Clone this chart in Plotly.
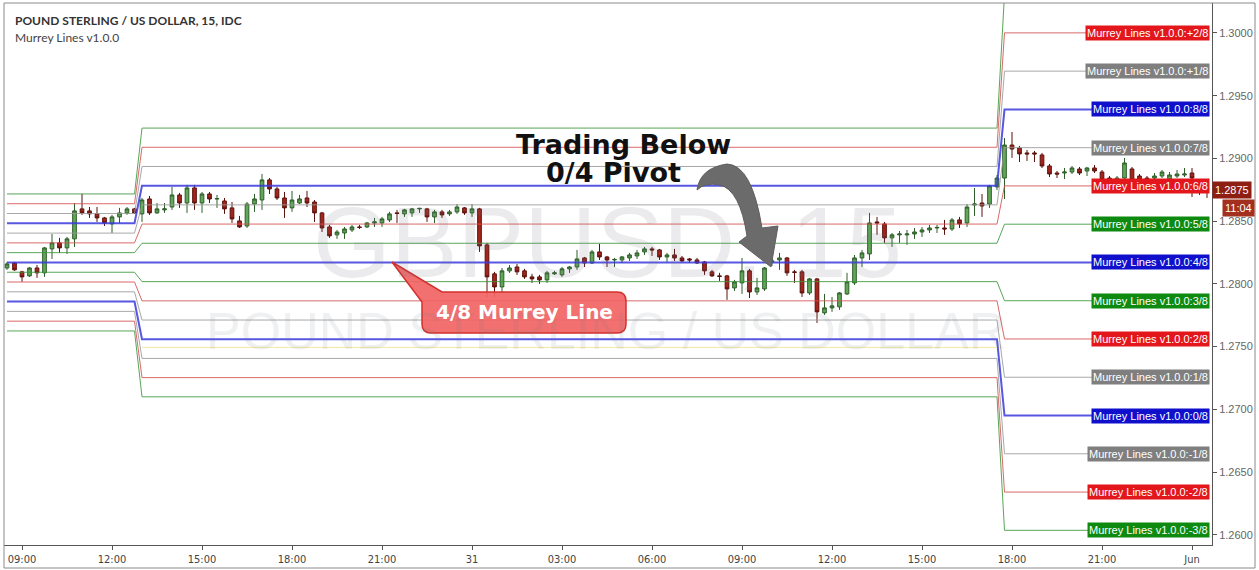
import plotly.graph_objects as go
import pandas as pd

# ---------------- data ----------------
bar_times = pd.date_range("2017-05-30 08:30", periods=161, freq="15min")

opens = [
    1.28127, 1.28167, 1.28096, 1.28064, 1.28127, 1.28088, 1.28279, 1.28327, 1.28287, 1.28359,
    1.28598, 1.28582, 1.28558, 1.28526, 1.28478, 1.28534, 1.28566, 1.28598, 1.28558, 1.28677,
    1.28566, 1.28590, 1.28613, 1.28709, 1.28645, 1.28765, 1.28645, 1.28717, 1.28677, 1.28661,
    1.28606, 1.28502, 1.28462, 1.28637, 1.28669, 1.28829, 1.28757, 1.28685, 1.28606, 1.28645,
    1.28685, 1.28653, 1.28566, 1.28454, 1.28391, 1.28406, 1.28430, 1.28454, 1.28454, 1.28486,
    1.28486, 1.28510, 1.28566, 1.28558, 1.28566, 1.28598, 1.28598, 1.28534, 1.28574, 1.28558,
    1.28574, 1.28606, 1.28566, 1.28598, 1.28311, 1.28080, 1.27976, 1.28104, 1.28135, 1.28104,
    1.28056, 1.28056, 1.28032, 1.28080, 1.28072, 1.28120, 1.28135, 1.28207, 1.28167, 1.28255,
    1.28215, 1.28191, 1.28191, 1.28207, 1.28223, 1.28255, 1.28279, 1.28271, 1.28215, 1.28231,
    1.28207, 1.28199, 1.28191, 1.28175, 1.28096, 1.28064, 1.28064, 1.27968, 1.28008, 1.28104,
    1.27936, 1.27960, 1.28175, 1.28191, 1.28207, 1.28096, 1.28096, 1.27928, 1.28040, 1.27769,
    1.27809, 1.27817, 1.27920, 1.28008, 1.28207, 1.28239, 1.28494, 1.28478, 1.28367, 1.28391,
    1.28391, 1.28398, 1.28414, 1.28430, 1.28446, 1.28446, 1.28438, 1.28510, 1.28486, 1.28629,
    1.28645, 1.28637, 1.28773, 1.28844, 1.29107, 1.29083, 1.29044, 1.29044, 1.29028, 1.28940,
    1.28884, 1.28884, 1.28892, 1.28916, 1.28900, 1.28924, 1.28892, 1.28844, 1.28773, 1.28844,
    1.28916, 1.28860, 1.28844, 1.28844, 1.28860, 1.28836, 1.28860, 1.28868, 1.28884, 1.28781,
    1.28757,
]
highs = [
    1.28175, 1.28175, 1.28104, 1.28135, 1.28151, 1.28295, 1.28398, 1.28367, 1.28375, 1.28645,
    1.28717, 1.28613, 1.28613, 1.28534, 1.28550, 1.28606, 1.28613, 1.28606, 1.28685, 1.28701,
    1.28645, 1.28645, 1.28773, 1.28725, 1.28789, 1.28789, 1.28733, 1.28733, 1.28709, 1.28685,
    1.28653, 1.28542, 1.28653, 1.28717, 1.28876, 1.28844, 1.28773, 1.28733, 1.28741, 1.28709,
    1.28741, 1.28669, 1.28574, 1.28470, 1.28430, 1.28454, 1.28470, 1.28470, 1.28494, 1.28526,
    1.28534, 1.28574, 1.28590, 1.28598, 1.28606, 1.28606, 1.28606, 1.28590, 1.28590, 1.28590,
    1.28637, 1.28613, 1.28637, 1.28606, 1.28327, 1.28096, 1.28127, 1.28151, 1.28159, 1.28120,
    1.28080, 1.28072, 1.28104, 1.28104, 1.28135, 1.28143, 1.28271, 1.28215, 1.28271, 1.28319,
    1.28223, 1.28207, 1.28223, 1.28247, 1.28271, 1.28295, 1.28295, 1.28279, 1.28247, 1.28279,
    1.28223, 1.28207, 1.28207, 1.28183, 1.28112, 1.28088, 1.28072, 1.28032, 1.28207, 1.28120,
    1.28048, 1.28135, 1.28207, 1.28247, 1.28215, 1.28112, 1.28112, 1.28048, 1.28048, 1.27920,
    1.27896, 1.27936, 1.28088, 1.28231, 1.28271, 1.28566, 1.28534, 1.28494, 1.28406, 1.28422,
    1.28430, 1.28446, 1.28454, 1.28470, 1.28470, 1.28510, 1.28526, 1.28534, 1.28637, 1.28765,
    1.28717, 1.28789, 1.28868, 1.29163, 1.29211, 1.29099, 1.29068, 1.29060, 1.29044, 1.28956,
    1.28900, 1.28924, 1.28940, 1.28932, 1.28932, 1.28948, 1.28908, 1.28860, 1.28860, 1.29004,
    1.28932, 1.28876, 1.28860, 1.28884, 1.28908, 1.28892, 1.28908, 1.28924, 1.28924, 1.28805,
    1.28781,
]
lows = [
    1.28112, 1.28104, 1.28016, 1.28056, 1.28048, 1.28056, 1.28199, 1.28247, 1.28239, 1.28295,
    1.28550, 1.28526, 1.28494, 1.28462, 1.28406, 1.28486, 1.28550, 1.28558, 1.28494, 1.28550,
    1.28558, 1.28566, 1.28590, 1.28606, 1.28566, 1.28590, 1.28566, 1.28645, 1.28606, 1.28558,
    1.28486, 1.28446, 1.28446, 1.28574, 1.28590, 1.28717, 1.28669, 1.28526, 1.28574, 1.28637,
    1.28613, 1.28494, 1.28414, 1.28367, 1.28359, 1.28359, 1.28414, 1.28438, 1.28446, 1.28454,
    1.28454, 1.28494, 1.28486, 1.28534, 1.28534, 1.28566, 1.28494, 1.28486, 1.28526, 1.28542,
    1.28558, 1.28550, 1.28534, 1.28255, 1.27896, 1.27896, 1.27928, 1.28088, 1.28072, 1.28040,
    1.28008, 1.28000, 1.28008, 1.28072, 1.28056, 1.28088, 1.28112, 1.28135, 1.28159, 1.28191,
    1.28135, 1.28135, 1.28167, 1.28183, 1.28199, 1.28231, 1.28223, 1.28191, 1.28175, 1.28183,
    1.28175, 1.28167, 1.28159, 1.28072, 1.28056, 1.28024, 1.27873, 1.27944, 1.27920, 1.27888,
    1.27912, 1.27944, 1.28143, 1.28112, 1.28064, 1.28008, 1.27896, 1.27912, 1.27689, 1.27753,
    1.27777, 1.27793, 1.27912, 1.27992, 1.28135, 1.28191, 1.28391, 1.28327, 1.28295, 1.28327,
    1.28311, 1.28359, 1.28375, 1.28406, 1.28406, 1.28391, 1.28422, 1.28446, 1.28454, 1.28542,
    1.28534, 1.28606, 1.28749, 1.28677, 1.29004, 1.28972, 1.28980, 1.28972, 1.28924, 1.28852,
    1.28844, 1.28836, 1.28876, 1.28868, 1.28860, 1.28884, 1.28813, 1.28781, 1.28749, 1.28805,
    1.28789, 1.28805, 1.28813, 1.28829, 1.28844, 1.28821, 1.28844, 1.28852, 1.28693, 1.28709,
    1.28685,
]
closes = [
    1.28159, 1.28112, 1.28056, 1.28127, 1.28088, 1.28287, 1.28327, 1.28287, 1.28359, 1.28582,
    1.28566, 1.28558, 1.28526, 1.28486, 1.28534, 1.28566, 1.28598, 1.28566, 1.28669, 1.28566,
    1.28598, 1.28598, 1.28709, 1.28645, 1.28765, 1.28645, 1.28717, 1.28677, 1.28680, 1.28598,
    1.28518, 1.28454, 1.28637, 1.28677, 1.28829, 1.28757, 1.28685, 1.28606, 1.28669, 1.28677,
    1.28645, 1.28566, 1.28446, 1.28383, 1.28414, 1.28438, 1.28454, 1.28450, 1.28486, 1.28494,
    1.28518, 1.28558, 1.28562, 1.28590, 1.28598, 1.28602, 1.28534, 1.28574, 1.28550, 1.28574,
    1.28613, 1.28566, 1.28598, 1.28303, 1.28056, 1.27976, 1.28104, 1.28127, 1.28096, 1.28056,
    1.28040, 1.28032, 1.28088, 1.28088, 1.28120, 1.28135, 1.28199, 1.28167, 1.28255, 1.28215,
    1.28191, 1.28195, 1.28215, 1.28231, 1.28247, 1.28279, 1.28271, 1.28215, 1.28231, 1.28207,
    1.28183, 1.28191, 1.28167, 1.28104, 1.28064, 1.28060, 1.27960, 1.28016, 1.28104, 1.27936,
    1.27968, 1.28127, 1.28183, 1.28207, 1.28088, 1.28092, 1.27928, 1.28040, 1.27777, 1.27809,
    1.27825, 1.27928, 1.28016, 1.28207, 1.28247, 1.28486, 1.28486, 1.28367, 1.28391, 1.28398,
    1.28398, 1.28414, 1.28430, 1.28446, 1.28450, 1.28438, 1.28510, 1.28478, 1.28613, 1.28637,
    1.28621, 1.28781, 1.28844, 1.29107, 1.29075, 1.29036, 1.29036, 1.29036, 1.28940, 1.28876,
    1.28876, 1.28892, 1.28924, 1.28884, 1.28924, 1.28900, 1.28829, 1.28813, 1.28844, 1.28964,
    1.28829, 1.28829, 1.28829, 1.28860, 1.28892, 1.28868, 1.28876, 1.28876, 1.28844, 1.28765,
    1.28750,
]

level_names = ["+3/8", "+2/8", "+1/8", "8/8", "7/8", "6/8", "5/8", "4/8",
               "3/8", "2/8", "1/8", "0/8", "-1/8", "-2/8", "-3/8"]
level_kinds = ["green", "red", "gray", "blue", "gray", "red", "green", "blue",
               "green", "red", "gray", "blue", "gray", "red", "green"]
seg1_levels = [1.28717, 1.28639, 1.28561, 1.28483, 1.28405, 1.28327, 1.28249, 1.28171,
               1.28093, 1.28015, 1.27937, 1.27859, 1.27781, 1.27703, 1.27625]
seg2_levels = [1.29242, 1.29089, 1.28936, 1.28783, 1.28630, 1.28477, 1.28324, 1.28171,
               1.28018, 1.27865, 1.27712, 1.27559, 1.27406, 1.27253, 1.27100]
seg3_levels = [1.30306, 1.30001, 1.29696, 1.29391, 1.29086, 1.28781, 1.28476, 1.28171,
               1.27866, 1.27561, 1.27256, 1.26951, 1.26646, 1.26341, 1.26036]
seg2_start = 18     # first bar of the second Murrey period
seg3_start = 133    # first bar of the third Murrey period
seg2_extra_level = 1.27494

y_ticks = [1.2600, 1.2650, 1.2700, 1.2750, 1.2800, 1.2850, 1.2900, 1.2950, 1.3000]
x_tick_times = ["2017-05-30 09:00", "2017-05-30 12:00", "2017-05-30 15:00", "2017-05-30 18:00",
                "2017-05-30 21:00", "2017-05-31 00:00", "2017-05-31 03:00", "2017-05-31 06:00",
                "2017-05-31 09:00", "2017-05-31 12:00", "2017-05-31 15:00", "2017-05-31 18:00",
                "2017-05-31 21:00", "2017-06-01 00:00"]
x_tick_text = ["09:00", "12:00", "15:00", "18:00", "21:00", "31", "03:00", "06:00",
               "09:00", "12:00", "15:00", "18:00", "21:00", "Jun"]
last_price = 1.2875
countdown = "11:04"
label_prefix = "Murrey Lines v1.0.0:"

# ---------------- styling ----------------
W, H = 1259, 570
PX0, PX1, PY0, PY1 = 4, 1212, 3, 545


def pxx(x):
    return (x - PX0) / (PX1 - PX0)


def pyy(y):
    return (PY1 - y) / (PY1 - PY0)


def path_from(cmds):
    parts = []
    for c in cmds:
        op = c[0]
        pts = c[1:]
        parts.append(op + " " + " ".join(f"{pxx(p[0]):.5f},{pyy(p[1]):.5f}" for p in pts))
    return " ".join(parts) + " Z"


line_colors = {"green": "#3c973c", "red": "#d45050", "gray": "#9a9a9a", "blue": "#3a3ade"}
label_colors = {"green": "#0f8a10", "red": "#e3161b", "gray": "#7f7f7f", "blue": "#1010cc"}

fig = go.Figure()

# Murrey lines
n = len(bar_times)
for k, (name, kind) in enumerate(zip(level_names, level_kinds)):
    vals = []
    for i in range(n):
        if i < seg2_start:
            vals.append(seg1_levels[k])
        elif i < seg3_start:
            vals.append(seg2_levels[k])
        else:
            vals.append(seg3_levels[k])
    fig.add_trace(go.Scatter(
        x=bar_times, y=vals, mode="lines", hoverinfo="skip", showlegend=False,
        line=dict(color=line_colors[kind], width=2 if kind == "blue" else 1),
        opacity=0.85,
    ))

fig.add_trace(go.Scatter(
    x=bar_times[seg2_start:seg3_start], y=[seg2_extra_level] * (seg3_start - seg2_start),
    mode="lines", hoverinfo="skip", showlegend=False,
    line=dict(color="#f3e9a0", width=1),
))

# Candles
fig.add_trace(go.Candlestick(
    x=bar_times, open=opens, high=highs, low=lows, close=closes,
    increasing=dict(fillcolor="#62a65a", line=dict(color="#2e5e29", width=1)),
    decreasing=dict(fillcolor="#a5241c", line=dict(color="#5a120d", width=1)),
    whiskerwidth=0, hoverinfo="skip", showlegend=False,
))

ann = []
# watermark
ann.append(dict(text="GBPUSD, 15", x=pxx(607), y=pyy(242), xref="paper", yref="paper",
                showarrow=False, xanchor="center", yanchor="middle",
                font=dict(family="Liberation Sans, Arial, sans-serif", size=100,
                          color="rgba(110,115,125,0.14)")))
ann.append(dict(text="POUND STERLING / US DOLLAR", x=pxx(606), y=pyy(331), xref="paper",
                yref="paper", showarrow=False, xanchor="center", yanchor="middle",
                font=dict(family="Liberation Sans, Arial, sans-serif", size=52,
                          color="rgba(110,115,125,0.11)")))

# header
ann.append(dict(text="<b>POUND STERLING / US DOLLAR, 15, IDC</b>", x=pxx(13), y=pyy(20),
                xref="paper", yref="paper", showarrow=False, xanchor="left", yanchor="middle",
                font=dict(family="Lato, Open Sans, sans-serif", size=12, color="#333333")))
ann.append(dict(text="Murrey Lines v1.0.0", x=pxx(13), y=pyy(37),
                xref="paper", yref="paper", showarrow=False, xanchor="left", yanchor="middle",
                font=dict(family="Lato, Open Sans, sans-serif", size=12, color="#444444")))

# Murrey level labels (third period)
for k, (name, kind) in enumerate(zip(level_names, level_kinds)):
    v = seg3_levels[k]
    if v > 1.3020:
        continue
    ann.append(dict(text=label_prefix + name, x=1, xref="paper", y=v, yref="y",
                    xanchor="right", yanchor="middle", xshift=-2, showarrow=False,
                    bgcolor=label_colors[kind], borderpad=1,
                    font=dict(family="Liberation Sans, Arial, sans-serif", size=11,
                              color="white")))

# last price + countdown
ann.append(dict(text=f"{last_price:.4f}", x=1, xref="paper", y=last_price, yref="y",
                xanchor="left", yanchor="middle", showarrow=False, bgcolor="#8e1e12",
                borderpad=2, font=dict(family="Liberation Sans, Arial, sans-serif", size=11,
                                       color="white")))
ann.append(dict(text=countdown, x=pxx(1255), xref="paper", y=last_price, yref="y",
                xanchor="right", yanchor="middle", yshift=-18, showarrow=False,
                bgcolor="#a3301e", borderpad=2,
                font=dict(family="Liberation Sans, Arial, sans-serif", size=11, color="white")))

# commentary
ann.append(dict(text="<b>Trading Below</b>", x=pxx(623), y=pyy(144), xref="paper", yref="paper",
                showarrow=False, xanchor="center", yanchor="middle",
                font=dict(family="DejaVu Sans, Verdana, sans-serif", size=27, color="#111111")))
ann.append(dict(text="<b>0/4 Pivot</b>", x=pxx(613), y=pyy(172), xref="paper", yref="paper",
                showarrow=False, xanchor="center", yanchor="middle",
                font=dict(family="DejaVu Sans, Verdana, sans-serif", size=27, color="#111111")))
ann.append(dict(text="<b>4/8 Murrey Line</b>", x=pxx(524), y=pyy(312), xref="paper",
                yref="paper", showarrow=False, xanchor="center", yanchor="middle",
                font=dict(family="DejaVu Sans, Verdana, sans-serif", size=20, color="white")))

shapes = []
# callout box with tail
callout = path_from([
    ("M", (392, 262)), ("L", (442, 292)), ("L", (617, 292)),
    ("Q", (626, 292), (626, 301)), ("L", (626, 324)),
    ("Q", (626, 333), (617, 333)), ("L", (431, 333)),
    ("Q", (422, 333), (422, 324)), ("L", (422, 302)),
])
shapes.append(dict(type="path", path=callout, xref="paper", yref="paper",
                   fillcolor="rgba(242,100,100,0.92)", line=dict(color="#d3302c", width=1.5)))
# curved arrow
arrow = path_from([
    ("M", (697, 190)), ("Q", (700, 168), (727, 164)),
    ("Q", (752, 165), (762, 228)), ("L", (778, 226)), ("L", (771, 267)),
    ("L", (739, 242)), ("L", (747, 236)),
    ("Q", (740, 190), (720, 185)), ("Q", (705, 182), (697, 190)),
])
shapes.append(dict(type="path", path=arrow, xref="paper", yref="paper",
                   fillcolor="#6b6b6b", line=dict(color="#5e5e5e", width=1)))
# outer frame
shapes.append(dict(type="rect", xref="paper", yref="paper", x0=pxx(4), x1=pxx(1255),
                   y0=pyy(568), y1=pyy(3), line=dict(color="#8a8a8a", width=1)))

fig.update_layout(
    width=W, height=H,
    margin=dict(l=PX0, r=W - PX1, t=PY0, b=H - PY1, pad=0),
    paper_bgcolor="white", plot_bgcolor="white",
    showlegend=False,
    annotations=ann, shapes=shapes,
    xaxis=dict(type="date", range=["2017-05-30 08:24", "2017-06-01 00:40"],
               tickvals=x_tick_times, ticktext=x_tick_text, ticks="outside", ticklen=4,
               tickcolor="#555555", showline=True, linecolor="#555555", linewidth=1,
               showgrid=False, zeroline=False, rangeslider=dict(visible=False),
               tickfont=dict(family="DejaVu Sans Condensed, Liberation Sans Narrow, Arial Narrow, sans-serif",
                             size=11, color="#444444")),
    yaxis=dict(side="right", range=[1.25919, 1.30239], tickvals=y_ticks, tickformat=".4f",
               ticks="outside", ticklen=4, tickcolor="#555555", showline=True,
               linecolor="#555555", linewidth=1, showgrid=False, zeroline=False,
               tickfont=dict(family="Liberation Sans, Arial, sans-serif", size=11,
                             color="#666666")),
)

fig.write_html(
    "out.html",
    config={"displayModeBar": False},
    post_script="document.body.style.margin='0';document.body.style.overflow='hidden';",
)
